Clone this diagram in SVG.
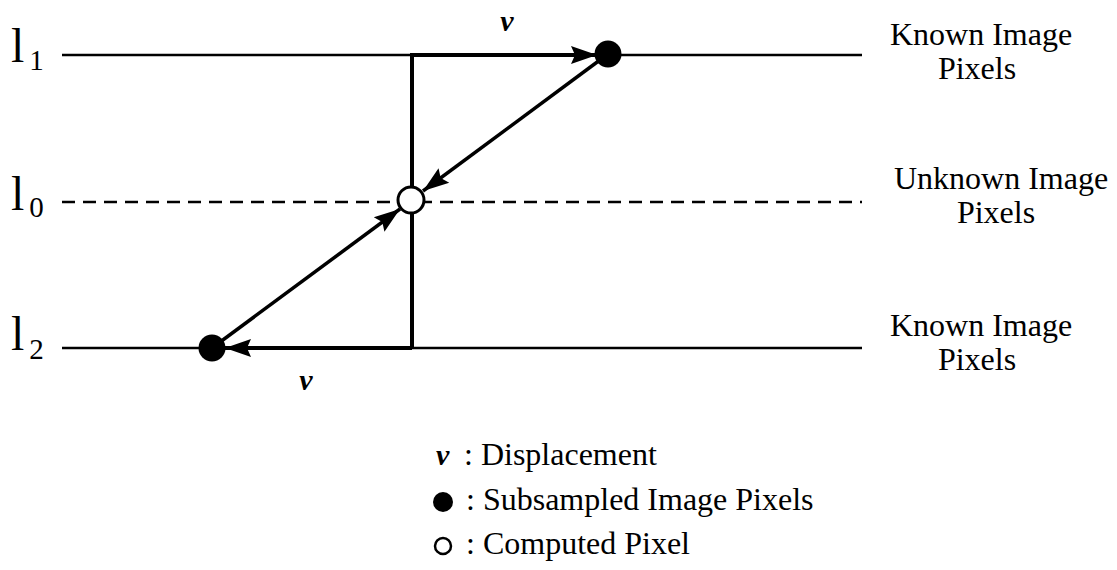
<svg xmlns="http://www.w3.org/2000/svg" width="1117" height="570" viewBox="0 0 1117 570">
<style>
.t{font-family:"Liberation Serif","Times New Roman",serif;fill:#000}
.lab{font-size:32px}
.v{font-size:30px;font-style:italic;font-weight:bold}
.big{font-size:48px}
.sub{font-size:29px}
.ln{stroke:#000;stroke-width:2.5;fill:none}
.th{stroke:#000;stroke-width:4;fill:none}
.dg{stroke:#000;stroke-width:3.5;fill:none}
</style>
<defs>
<marker id="ah" viewBox="0 0 26 20" refX="26" refY="10" markerWidth="26" markerHeight="20" markerUnits="userSpaceOnUse" orient="auto">
<path d="M0,1 L26,10 L0,19 L4,10 z" fill="#000"/>
</marker>
</defs>
<rect width="1117" height="570" fill="#fff"/>
<g id="lines">
<line class="ln" x1="62" y1="55" x2="862" y2="55"/>
<line class="ln" x1="62" y1="202" x2="862" y2="202" stroke-dasharray="13 8"/>
<line class="ln" x1="62" y1="348" x2="862" y2="348"/>
</g>
<g id="connectors">
<path class="th" d="M412,348 L412,55 L597,55" marker-end="url(#ah)"/>
<path class="th" d="M412,348 L225,348" marker-end="url(#ah)"/>
<path class="dg" d="M608,54 L423,191" marker-end="url(#ah)"/>
<path class="dg" d="M212,348 L400,209" marker-end="url(#ah)"/>
</g>
<g id="node-p1"><circle cx="608" cy="54" r="13.5" fill="#000"/></g>
<g id="node-p2"><circle cx="212" cy="348" r="13.5" fill="#000"/></g>
<g id="node-p0"><circle cx="411" cy="200" r="13" fill="#fff" stroke="#000" stroke-width="3"/></g>
<g id="labels-left">
<text class="t big" x="11" y="62">l<tspan class="sub" dx="5" dy="8">1</tspan></text>
<text class="t big" x="11" y="210">l<tspan class="sub" dx="5" dy="7">0</tspan></text>
<text class="t big" x="11" y="350">l<tspan class="sub" dx="5" dy="9">2</tspan></text>
</g>
<g id="v-labels">
<text class="t v" x="507" y="31" text-anchor="middle">v</text>
<text class="t v" x="306" y="390" text-anchor="middle">v</text>
</g>
<g id="labels-right">
<text class="t lab" x="981" y="45" text-anchor="middle">Known Image</text>
<text class="t lab" x="977" y="79" text-anchor="middle">Pixels</text>
<text class="t lab" x="1001" y="189" text-anchor="middle">Unknown Image</text>
<text class="t lab" x="996" y="223" text-anchor="middle">Pixels</text>
<text class="t lab" x="981" y="336" text-anchor="middle">Known Image</text>
<text class="t lab" x="977" y="370" text-anchor="middle">Pixels</text>
</g>
<g id="legend">
<text class="t v" x="436" y="465">v</text>
<text class="t lab" x="464" y="465">: Displacement</text>
<circle cx="443" cy="502" r="10" fill="#000"/>
<text class="t lab" x="466" y="510">: Subsampled Image Pixels</text>
<circle cx="443" cy="546" r="8" fill="#fff" stroke="#000" stroke-width="2.5"/>
<text class="t lab" x="466" y="554">: Computed Pixel</text>
</g>
</svg>
